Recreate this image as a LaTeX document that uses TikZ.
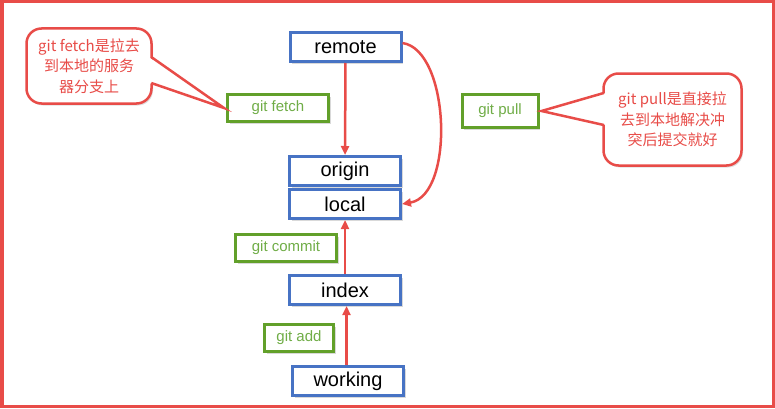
\documentclass[tikz,border=0pt]{standalone}
\usepackage{fontspec}
\setmainfont{Liberation Sans}
\newfontfamily\cjk{Noto Sans CJK SC}
\usepackage{tikz}
\usetikzlibrary{arrows.meta,shadows,calc}
\definecolor{stageblue}{RGB}{71,115,196}
\definecolor{cmdgreen}{RGB}{98,160,42}
\definecolor{cmdtext}{RGB}{112,173,71}
\definecolor{notered}{RGB}{232,76,72}

\begin{document}
\begin{tikzpicture}[x=1pt,y=1pt]
				\tikzstyle{stage}=[draw=stageblue,line width=3pt,fill=white,minimum width=111pt,minimum height=29pt,inner sep=0pt,font=\fontsize{20}{24}\selectfont,
				drop shadow={shadow xshift=2pt,shadow yshift=-2.5pt,opacity=.3}]
				\tikzstyle{cmd}=[draw=cmdgreen,line width=3pt,fill=white,minimum height=27pt,inner sep=0pt,text=cmdtext,font=\fontsize{15}{18}\selectfont,
				drop shadow={shadow xshift=2pt,shadow yshift=-2.5pt,opacity=.3}]
				\tikzstyle{note}=[draw=notered,line width=2.5pt,fill=white,rounded corners=15pt,text=notered,align=center,inner sep=0pt,
				font=\cjk\fontsize{15}{20.5}\selectfont,drop shadow={shadow xshift=1.5pt,shadow yshift=-2pt,opacity=.25}]
				\tikzstyle{flow}=[draw=notered,line width=2.5pt,-{Triangle[length=9pt,width=8pt]}]
				\useasboundingbox (0,0) rectangle (775,408);
				\draw[notered,line width=3.5pt] (1.75,1.75) rectangle (773.25,406.25);
				\node[stage] (remote) at (345.5,361) {remote};
				\node[stage] (origin) at (345,237) {origin};
				\node[stage] (local) at (345,204) {local};
				\node[stage] (index) at (345,118) {index};
				\node[stage] (working) at (348,27) {working};
				\node[cmd,minimum width=101pt] (fetch) at (278,300) {git fetch};
				\node[cmd,minimum width=76pt,minimum height=33pt] (pull) at (500,297) {git pull};
				\node[cmd,minimum width=101pt] (commit) at (286,160) {git commit};
				\node[cmd,minimum width=69pt] (add) at (299,70) {git add};
				\node[note,minimum width=125pt,minimum height=75pt] (fetchnote) at (89,342) {git fetch是拉去\\到本地的服务\\器分支上};
				\node[note,minimum width=138pt,minimum height=92pt] (pullnote) at (672.5,288.5) {git pull是直接拉\\去到本地解决冲\\突后提交就好};
				\fill[white] ($(fetchnote.east)+(-4,9)$) -- ([xshift=-2pt]fetch.west) -- ($(fetchnote.east)+(-4,-17)$) -- cycle;
				\draw[notered,line width=2.5pt,line join=miter] ($(fetchnote.east)+(-1.5,9)$) -- ([xshift=-2pt]fetch.west) -- ($(fetchnote.east)+(-1.5,-17)$);
				\fill[white] ($(pullnote.west)+(4,26.5)$) -- ([xshift=2pt]pull.east) -- ($(pullnote.west)+(4,-5.5)$) -- cycle;
				\draw[notered,line width=2.5pt,line join=miter] ($(pullnote.west)+(1.5,26.5)$) -- ([xshift=2pt]pull.east) -- ($(pullnote.west)+(1.5,-5.5)$);
				\draw[flow] (remote) -- (origin);
				\draw[flow] ([yshift=4pt]remote.east) .. controls (450,358) and (455,213) .. (local.east);
				\draw[flow] (index) -- (local);
				\draw[flow] ([xshift=-1.5pt]working.north) -- ([xshift=1.5pt]index.south);
				\end{tikzpicture}
\end{document}
